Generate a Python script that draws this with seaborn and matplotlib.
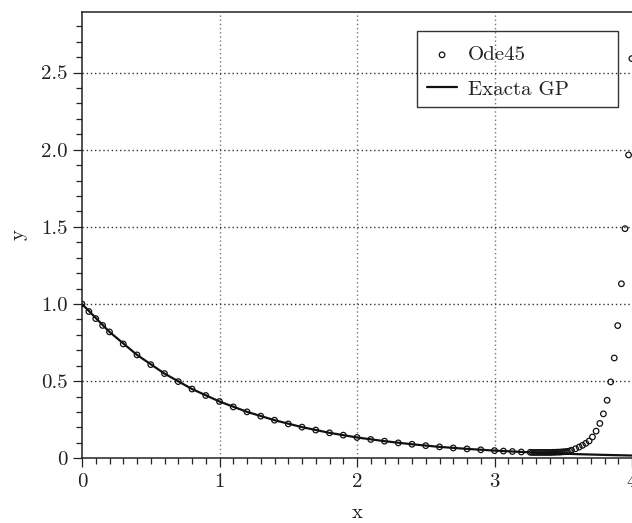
import numpy as np
import pandas as pd
import matplotlib
matplotlib.use("Agg")
import matplotlib.pyplot as plt
from matplotlib.ticker import MultipleLocator, FixedLocator, FixedFormatter
from matplotlib.patches import Rectangle
import seaborn as sns

# Ode45 numerical points
ode_x = [0.0, 0.05, 0.1, 0.15, 0.2, 0.3, 0.4, 0.5, 0.6, 0.7, 0.8, 0.9, 1.0,
         1.1, 1.2, 1.3, 1.4, 1.5, 1.6, 1.7, 1.8, 1.9, 2.0, 2.1, 2.2, 2.3,
         2.4, 2.5, 2.6, 2.7, 2.8, 2.9, 3.0, 3.065, 3.13, 3.195,
         3.26, 3.275, 3.29, 3.305, 3.32, 3.335, 3.35, 3.365, 3.38, 3.395,
         3.41, 3.425, 3.44, 3.455, 3.47, 3.485, 3.5, 3.515, 3.53, 3.545,
         3.56, 3.59, 3.616, 3.64, 3.664, 3.688, 3.712, 3.739, 3.766, 3.792,
         3.819, 3.845, 3.871, 3.896, 3.923, 3.949, 3.975, 3.999]
ode_y = [1.0, 0.951, 0.905, 0.861, 0.819, 0.741, 0.670, 0.607, 0.549, 0.497,
         0.449, 0.407, 0.368, 0.333, 0.301, 0.273, 0.247, 0.223, 0.202,
         0.183, 0.165, 0.150, 0.135, 0.122, 0.111, 0.100, 0.091, 0.082,
         0.074, 0.067, 0.061, 0.055, 0.050, 0.047, 0.044, 0.041,
         0.039, 0.038, 0.038, 0.038, 0.038, 0.038, 0.038, 0.038, 0.038, 0.038,
         0.038, 0.039, 0.039, 0.040, 0.040, 0.041, 0.042, 0.043, 0.045, 0.047,
         0.052, 0.062, 0.073, 0.084, 0.097, 0.112, 0.138, 0.176, 0.226, 0.288,
         0.376, 0.495, 0.650, 0.860, 1.131, 1.488, 1.966, 2.590]

# Exact solution curve
exact_x = [0.0, 0.2, 0.4, 0.6, 0.8, 1.0, 1.2, 1.4, 1.6, 1.8, 2.0, 2.2, 2.4,
           2.6, 2.8, 3.0, 3.2, 3.4, 3.6, 3.8, 4.0]
exact_y = [1.0, 0.819, 0.670, 0.549, 0.449, 0.368, 0.301, 0.247, 0.202,
           0.165, 0.135, 0.111, 0.091, 0.074, 0.061, 0.050, 0.041, 0.033,
           0.027, 0.022, 0.018]

x_ticks = [0, 1, 2, 3, 4]
x_tick_labels = ["0", "1", "2", "3", "4"]
y_ticks = [0, 0.5, 1.0, 1.5, 2.0, 2.5]
y_tick_labels = ["0", "0.5", "1.0", "1.5", "2.0", "2.5"]

sns.set_style("ticks")
plt.rcParams["font.family"] = ["cmr10", "DejaVu Sans"]
plt.rcParams["axes.formatter.use_mathtext"] = True
plt.rcParams["mathtext.fontset"] = "cm"

fig = plt.figure(figsize=(6.32, 5.23), dpi=100)
ax = fig.add_axes([82 / 632, 64.7 / 523, 550 / 632, 446.6 / 523])

df_exact = pd.DataFrame({"x": exact_x, "y": exact_y})
df_ode = pd.DataFrame({"x": ode_x, "y": ode_y})

sns.lineplot(data=df_exact, x="x", y="y", ax=ax, color="#111111",
             linewidth=1.6, label="Exacta GP", zorder=3, sort=False)
sns.scatterplot(data=df_ode, x="x", y="y", ax=ax, marker="o", s=16,
                facecolor="none", edgecolor="#111111", linewidth=0.9,
                label="Ode45", zorder=4, clip_on=True)

ax.set_xlim(0, 4)
ax.set_ylim(0, 2.894)

ax.xaxis.set_major_locator(FixedLocator(x_ticks))
ax.xaxis.set_major_formatter(FixedFormatter(x_tick_labels))
ax.yaxis.set_major_locator(FixedLocator(y_ticks))
ax.yaxis.set_major_formatter(FixedFormatter(y_tick_labels))
ax.xaxis.set_minor_locator(MultipleLocator(0.1))
ax.yaxis.set_minor_locator(MultipleLocator(0.1))

ax.tick_params(axis="both", which="both", bottom=True, left=True,
               top=False, right=False, direction="out")
ax.tick_params(axis="both", which="major", length=6.3, width=0.9,
               color="#222222", labelsize=15, labelcolor="#222222")
ax.tick_params(axis="both", which="minor", length=4.0, width=0.9,
               color="#222222")
ax.tick_params(axis="x", which="major", pad=4)
ax.tick_params(axis="y", which="major", pad=4)

for s in ["left", "bottom", "top"]:
    ax.spines[s].set_visible(True)
    ax.spines[s].set_color("#222222")
    ax.spines[s].set_linewidth(1.1)
ax.spines["right"].set_visible(False)

# grid
ax.grid(False)
for gx in [1, 2, 3]:
    ax.axvline(gx, color="#777777", linestyle=(0, (1, 2)), linewidth=1.0, zorder=1)
for gy in [0.5, 1.0, 1.5, 2.0, 2.5]:
    ax.axhline(gy, color="#333333", linestyle=(0, (1, 2)), linewidth=1.0, zorder=1)

ax.set_xlabel("x", fontsize=15, color="#222222", labelpad=10)
ax.set_ylabel("y", fontsize=15, color="#222222", labelpad=10)

handles, labels = ax.get_legend_handles_labels()
order = [labels.index("Ode45"), labels.index("Exacta GP")]
leg = ax.legend([handles[i] for i in order], [labels[i] for i in order],
                loc="upper left", bbox_to_anchor=(0.602, 0.956),
                fontsize=15, frameon=False, handlelength=1.4,
                handletextpad=0.55, borderpad=0.69, labelspacing=0.75,
                borderaxespad=0)
for t in leg.get_texts():
    t.set_color("#222222")

# legend box (Maple style, wider than its content)
ax.add_patch(Rectangle((0.609, 0.787), 0.3655, 0.169, transform=ax.transAxes,
                       facecolor="none", edgecolor="#333333", linewidth=1.0,
                       zorder=5, clip_on=False))

fig.savefig("out.png", dpi=100)
